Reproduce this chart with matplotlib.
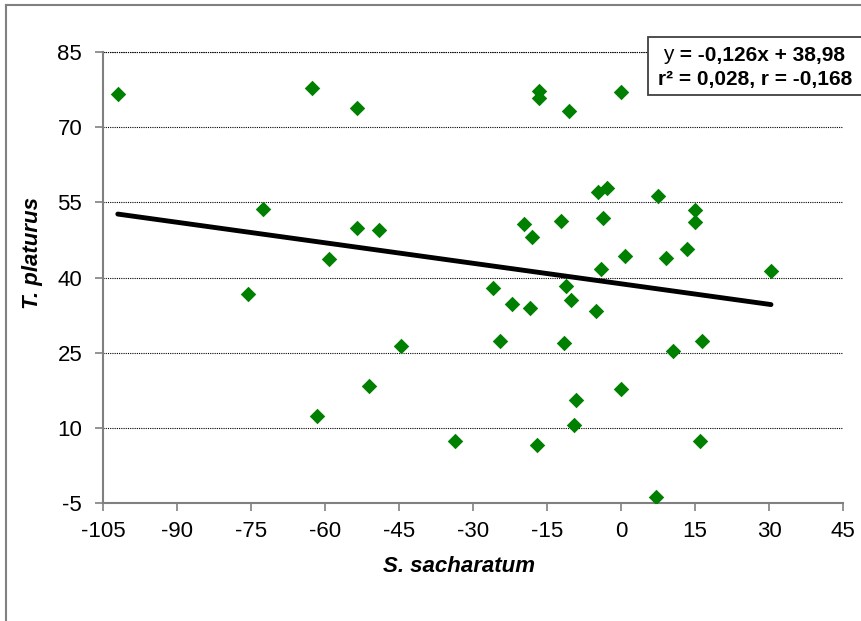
import numpy as np
import matplotlib.pyplot as plt
from matplotlib.lines import Line2D
from matplotlib.patches import Rectangle
from matplotlib.text import Annotation

plt.rcParams['font.family'] = ['Liberation Sans', 'DejaVu Sans']
plt.rcParams['axes.unicode_minus'] = False

# S. sacharatum (x) vs T. platurus (y)
sacharatum = [-102.0, -75.6, -72.6, -62.6, -61.6, -59.1, -53.6, -53.6, -51.1, -49.1,
              -44.6, -33.6, -26.0, -24.5, -22.0, -19.7, -18.5, -18.1, -17.1, -16.6,
              -16.6, -12.1, -11.6, -11.1, -10.6, -10.1, -9.6, -9.1, -5.1, -4.6,
              -4.1, -3.6, -2.9, -0.1, -0.1, 0.9, 7.0, 7.5, 9.1, 10.5,
              13.4, 15.0, 15.0, 16.0, 16.4, 30.4]
platurus = [76.6, 36.7, 53.6, 77.8, 12.5, 43.8, 73.8, 50.0, 18.3, 49.5,
            26.4, 7.5, 37.9, 27.3, 34.7, 50.7, 33.9, 48.2, 6.6, 77.3,
            75.8, 51.3, 27.0, 38.3, 73.2, 35.5, 10.7, 15.7, 33.3, 57.0,
            41.7, 51.8, 57.9, 77.1, 17.7, 44.4, -3.8, 56.2, 44.0, 25.4,
            45.7, 53.5, 51.0, 7.5, 27.4, 41.4]

xticks = [-105, -90, -75, -60, -45, -30, -15, 0, 15, 30, 45]
yticks = [-5, 10, 25, 40, 55, 70, 85]

eq_line1 = " = -0,126x + 38,98"
eq_line2 = "r\u00b2 = 0,028, r = -0,168"

x = np.array(sacharatum)
y = np.array(platurus)

fig = plt.figure(figsize=(8.61, 6.21), dpi=100)
ax = fig.add_axes([103/861, 1-503.3/621, 740/861, 451.3/621])

# fitted line
slope, icpt = np.polyfit(x, y, 1)
xs = np.array([x.min(), x.max()])
ax.plot(xs, slope*xs + icpt, color='black', lw=3.5, solid_capstyle='round', zorder=3)

ax.scatter(x, y, marker='D', s=62, color='#008000', linewidths=0, zorder=4)

ax.set_xlim(-105, 45)
ax.set_ylim(-5, 85)
ax.set_xticks(xticks)
ax.set_yticks(yticks)
ax.tick_params(labelsize=16, length=6, width=1.2, color='#808080')
ax.tick_params(axis='x', pad=6.5)
ax.tick_params(axis='y', pad=9)
for s in ['top', 'right']:
    ax.spines[s].set_visible(False)
for s in ['left', 'bottom']:
    ax.spines[s].set_color('#808080')
    ax.spines[s].set_linewidth(1.5)
ax.yaxis.grid(True, color='black', linestyle=(0, (1, 1)), lw=0.8)
ax.set_axisbelow(True)
# top gridline at 85
ax.axhline(85, color='black', linestyle=(0, (1, 1)), lw=0.8, clip_on=False)

ax.text(0.481, (503.3-566)/451.3, "S. sacharatum", transform=ax.transAxes, ha='center', va='center',
        fontsize=16, fontweight='bold', fontstyle='italic')
ax.text(-0.0946, 0.555, "T. platurus", transform=ax.transAxes, ha='center', va='center',
        rotation=90, fontsize=16, fontweight='bold', fontstyle='italic')

# chart frame (left and top only visible)
fig.add_artist(Line2D([6/861, 6/861], [0, 1-5/621], transform=fig.transFigure, color='#808080', lw=1.5))
fig.add_artist(Line2D([6/861, 1], [1-5/621, 1-5/621], transform=fig.transFigure, color='#808080', lw=1.5))

# equation box
fig.add_artist(Rectangle((648/861, 1-95/621), 0.3, 58/621, transform=fig.transFigure,
                         facecolor='white', edgecolor='#404040', lw=1.3, clip_on=False, zorder=5))
t1 = fig.text(663/861, 1-55/621, "y", fontsize=15, ha='left', va='center', zorder=6)
t2 = Annotation(eq_line1, xy=(1, 0), xycoords=t1, ha='left', va='bottom', fontsize=15,
                fontweight='bold', zorder=6)
fig.add_artist(t2)
fig.text(755/861, 1-80/621, eq_line2, fontsize=15, ha='center', va='center', fontweight='bold', zorder=6)

fig.savefig("out.png", dpi=100)
